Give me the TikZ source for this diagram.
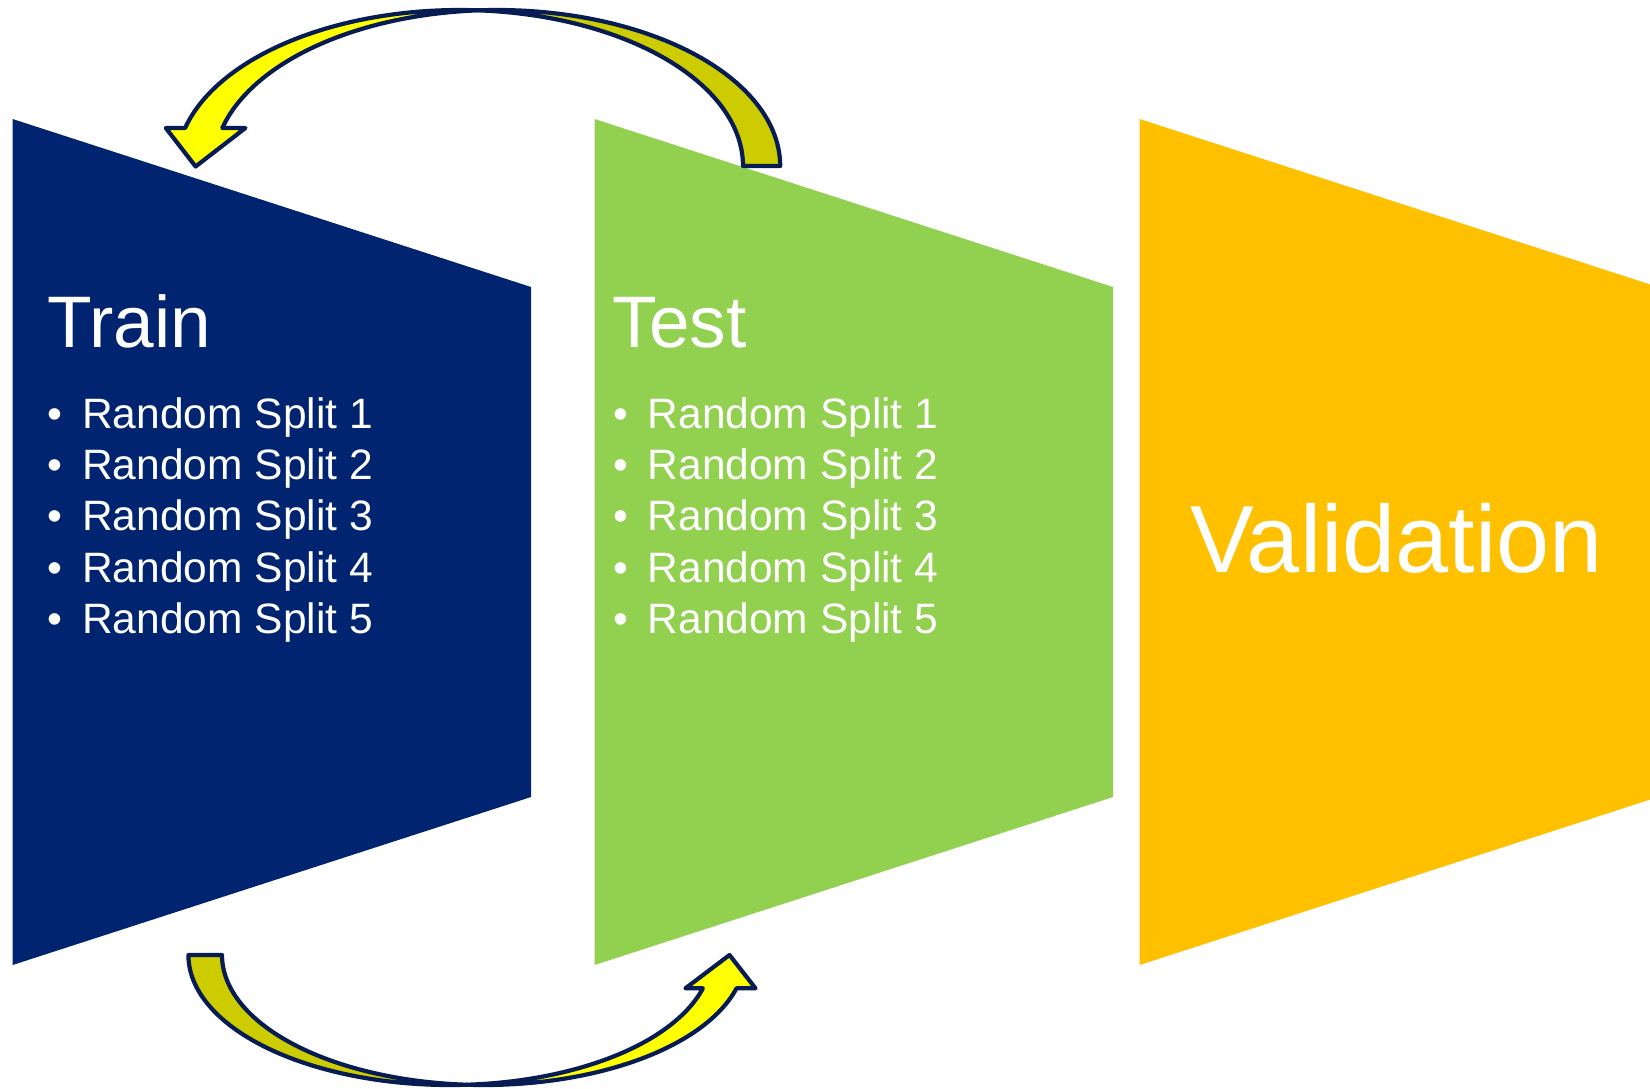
\documentclass[tikz,border=0pt]{standalone}
\usepackage{fontspec}
\setmainfont{Liberation Sans}
\definecolor{navyA}{RGB}{0,36,112}
\definecolor{greenA}{RGB}{146,208,80}
\definecolor{goldA}{RGB}{255,192,0}
\definecolor{yelA}{RGB}{255,255,0}
\definecolor{oliveA}{RGB}{204,204,0}
\definecolor{edgeA}{RGB}{8,28,84}
\tikzset{
  titletext/.style={text=white, inner sep=0pt, outer sep=0pt, anchor=base west, font=\fontsize{73}{80}\selectfont},
  itemtext/.style={text=white, inner sep=0pt, outer sep=0pt, anchor=base west, font=\fontsize{42.5}{50}\selectfont},
  arrowface/.style={draw=edgeA, line width=4.2pt, line join=round},
}
\begin{document}
\begin{tikzpicture}[x=1pt,y=-1pt]
\useasboundingbox (0,0) rectangle (1650,1088);
\clip (0,0) rectangle (1650,1088);
% panels
\fill[navyA] (12.6,119) -- (531,287) -- (531,797) -- (12.6,965) -- cycle;
\fill[greenA] (594.6,119) -- (1113,287) -- (1113,797) -- (594.6,965) -- cycle;
\fill[goldA] (1139.6,119) -- (1658,287) -- (1658,797) -- (1139.6,965) -- cycle;
% texts
\node[titletext] (train) at (47.6,347.3) {Train};
\node[titletext] (test) at (612.5,347.3) {Test};
\node[titletext, font=\fontsize{95.5}{100}\selectfont] (val) at (1190.3,572.5) {Validation};
\foreach \i in {1,...,5} {
  \node[itemtext] (tr\i) at (47.6,{428.3+51.25*(\i-1)}) {\makebox[34.7pt][l]{•}Random Split \i};
  \node[itemtext] (te\i) at (613,{428.3+51.25*(\i-1)}) {\makebox[34.7pt][l]{•}Random Split \i};
}
% top curved arrow (tail at Test, head at Train)
\path[arrowface, fill=oliveA]
  plot[domain=266.23:360, samples=80] ({497+283.2*cos(\x)},{166+156*sin(\x)})
  -- plot[domain=360:273.77, samples=80] ({459.8+283.2*cos(\x)},{166+156*sin(\x)})
  -- cycle;
\path[arrowface, fill=yelA]
  plot[domain=194.1:273.77, samples=80] ({459.8+283.2*cos(\x)},{166+156*sin(\x)})
  -- plot[domain=266.23:194.1, samples=80] ({497+283.2*cos(\x)},{166+156*sin(\x)})
  -- (245.4,128) -- (195.6,166.5) -- (165.8,128) -- cycle;
% bottom curved arrow (tail at Train, head at Test)
\path[arrowface, fill=oliveA]
  plot[domain=180:86.32, samples=80] ({450+261.6*cos(\x)},{955+130*sin(\x)})
  -- plot[domain=93.68:180, samples=80] ({483.6+261.6*cos(\x)},{955+130*sin(\x)})
  -- cycle;
\path[arrowface, fill=yelA]
  plot[domain=93.68:14.84, samples=80] ({483.6+261.6*cos(\x)},{955+130*sin(\x)})
  -- (755.5,988.3) -- (729.5,955) -- (685.4,988.3)
  -- plot[domain=14.84:86.32, samples=80] ({450+261.6*cos(\x)},{955+130*sin(\x)})
  -- cycle;
\end{tikzpicture}
\end{document}
